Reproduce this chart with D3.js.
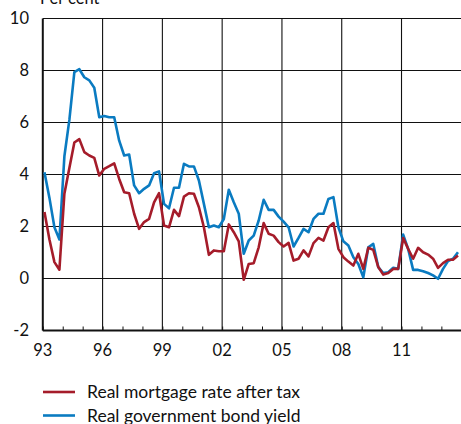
<!DOCTYPE html>
<html>
<head>
<meta charset="utf-8">
<script src="https://cdn.jsdelivr.net/npm/d3@7"></script>
<style>
  html, body { margin: 0; padding: 0; background: #fff; }
  svg { display: block; }
  text { font-family: Lato, "Noto Sans", sans-serif; fill: #111; }
</style>
</head>
<body>
<svg id="chart" width="461" height="424"></svg>
<script>
// Quarterly series, 1993Q1 – 2013Q4 (per cent)
const startYear = 1993;
const mortgageRate = [
  2.56, 1.50, 0.63, 0.34,
  3.26, 4.25, 5.23, 5.36,
  4.86, 4.73, 4.64, 3.96,
  4.22, 4.32, 4.43, 3.83,
  3.32, 3.28, 2.49, 1.91,
  2.17, 2.29, 2.93, 3.28,
  2.04, 1.97, 2.64, 2.40,
  3.15, 3.28, 3.26, 2.74,
  1.97, 0.91, 1.08, 1.05,
  1.05, 2.08, 1.78, 1.43,
  -0.05, 0.56, 0.59, 1.20,
  2.13, 1.72, 1.65, 1.40,
  1.23, 1.37, 0.69, 0.76,
  1.08, 0.85, 1.36, 1.56,
  1.46, 1.97, 2.13, 1.14,
  0.82, 0.65, 0.50, 0.95,
  0.37, 1.18, 1.10, 0.44,
  0.15, 0.21, 0.37, 0.37,
  1.56, 1.14, 0.76, 1.18,
  1.01, 0.92, 0.76, 0.41,
  0.59, 0.72, 0.72, 0.88
];
const bondYield = [
  4.09, 3.10, 1.97, 1.50,
  4.70, 6.10, 7.94, 8.05,
  7.74, 7.62, 7.34, 6.20,
  6.25, 6.20, 6.20, 5.30,
  4.73, 4.77, 3.58, 3.28,
  3.45, 3.58, 4.05, 4.12,
  2.87, 2.70, 3.49, 3.49,
  4.41, 4.31, 4.31, 3.77,
  2.87, 1.97, 2.04, 1.97,
  2.29, 3.41, 2.93, 2.49,
  0.95, 1.46, 1.65, 2.23,
  3.03, 2.64, 2.64, 2.38,
  2.19, 1.97, 1.23, 1.56,
  1.91, 1.78, 2.29, 2.49,
  2.49, 3.06, 3.13, 1.97,
  1.43, 1.27, 0.82, 0.56,
  0.05, 1.20, 1.33, 0.44,
  0.21, 0.24, 0.41, 0.37,
  1.69, 1.14, 0.33, 0.33,
  0.28, 0.21, 0.12, -0.01,
  0.37, 0.67, 0.76, 1.01
];
const yTicks = [-2, 0, 2, 4, 6, 8, 10];
const xTickYears = [1993, 1996, 1999, 2002, 2005, 2008, 2011];
const xTickLabels = ["93", "96", "99", "02", "05", "08", "11"];
const seriesNames = ["Real mortgage rate after tax", "Real government bond yield"];
const seriesColors = ["#a51c2a", "#0a7bc1"];

const svg = d3.select("#chart");

const x = d3.scaleLinear().domain([1993, 2014]).range([42.8, 461.3]);
const y = d3.scaleLinear().domain([-2, 10]).range([330.5, 18.5]);

// quarterly observations plotted one month into each quarter
const t = i => startYear + Math.floor(i / 4) + (i % 4) / 4 + 1 / 12;

// horizontal grid
svg.append("g")
  .selectAll("line")
  .data(yTicks)
  .join("line")
  .attr("x1", x(1993)).attr("x2", 461)
  .attr("y1", d => y(d)).attr("y2", d => y(d))
  .attr("stroke", "#111").attr("stroke-width", 1.1);

// vertical grid every third year
svg.append("g")
  .selectAll("line")
  .data(xTickYears.slice(1))
  .join("line")
  .attr("x1", d => x(d)).attr("x2", d => x(d))
  .attr("y1", y(10)).attr("y2", y(-2))
  .attr("stroke", "#111").attr("stroke-width", 1.1);

// bottom axis with yearly minor ticks
const xAxis = d3.axisBottom(x)
  .tickValues(d3.range(1993, 2014))
  .tickSize(-4)
  .tickFormat("");
const gx = svg.append("g").attr("transform", `translate(0,${y(-2)})`).call(xAxis);
gx.select(".domain").remove();
gx.selectAll("line").attr("stroke", "#111");

// x labels
svg.append("g")
  .selectAll("text")
  .data(xTickYears)
  .join("text")
  .attr("x", d => x(d))
  .attr("y", 356)
  .attr("text-anchor", "middle")
  .attr("font-size", 16.5)
  .text((d, i) => xTickLabels[i]);

// y labels
svg.append("g")
  .selectAll("text")
  .data(yTicks)
  .join("text")
  .attr("x", 29)
  .attr("y", d => y(d))
  .attr("dy", "0.35em")
  .attr("text-anchor", "end")
  .attr("font-size", 16.5)
  .text(d => d);

// axis lines
svg.append("line")
  .attr("x1", x(1993)).attr("x2", x(1993))
  .attr("y1", y(10)).attr("y2", y(-2))
  .attr("stroke", "#111").attr("stroke-width", 2);
svg.append("line")
  .attr("x1", x(1993)).attr("x2", 461)
  .attr("y1", y(-2)).attr("y2", y(-2))
  .attr("stroke", "#111").attr("stroke-width", 2);

// series lines (bond yield underneath)
const line = d3.line()
  .x((d, i) => x(t(i)))
  .y(d => y(d));

[bondYield, mortgageRate].forEach((vals, k) => {
  svg.append("path")
    .datum(vals)
    .attr("fill", "none")
    .attr("stroke", seriesColors[1 - k])
    .attr("stroke-width", 2.6)
    .attr("stroke-linejoin", "round")
    .attr("d", line);
});

// unit label
svg.append("text")
  .attr("x", 40).attr("y", 4)
  .attr("font-size", 16.5)
  .text("Per cent");

// legend
const legend = svg.append("g")
  .selectAll("g")
  .data(seriesNames)
  .join("g")
  .attr("transform", (d, i) => `translate(0,${392 + i * 23.5})`);
legend.append("line")
  .attr("x1", 43).attr("x2", 75)
  .attr("stroke", (d, i) => seriesColors[i])
  .attr("stroke-width", 2.6);
legend.append("text")
  .attr("x", 87).attr("dy", "0.36em")
  .attr("font-size", 17.5)
  .text(d => d);
</script>
</body>
</html>
